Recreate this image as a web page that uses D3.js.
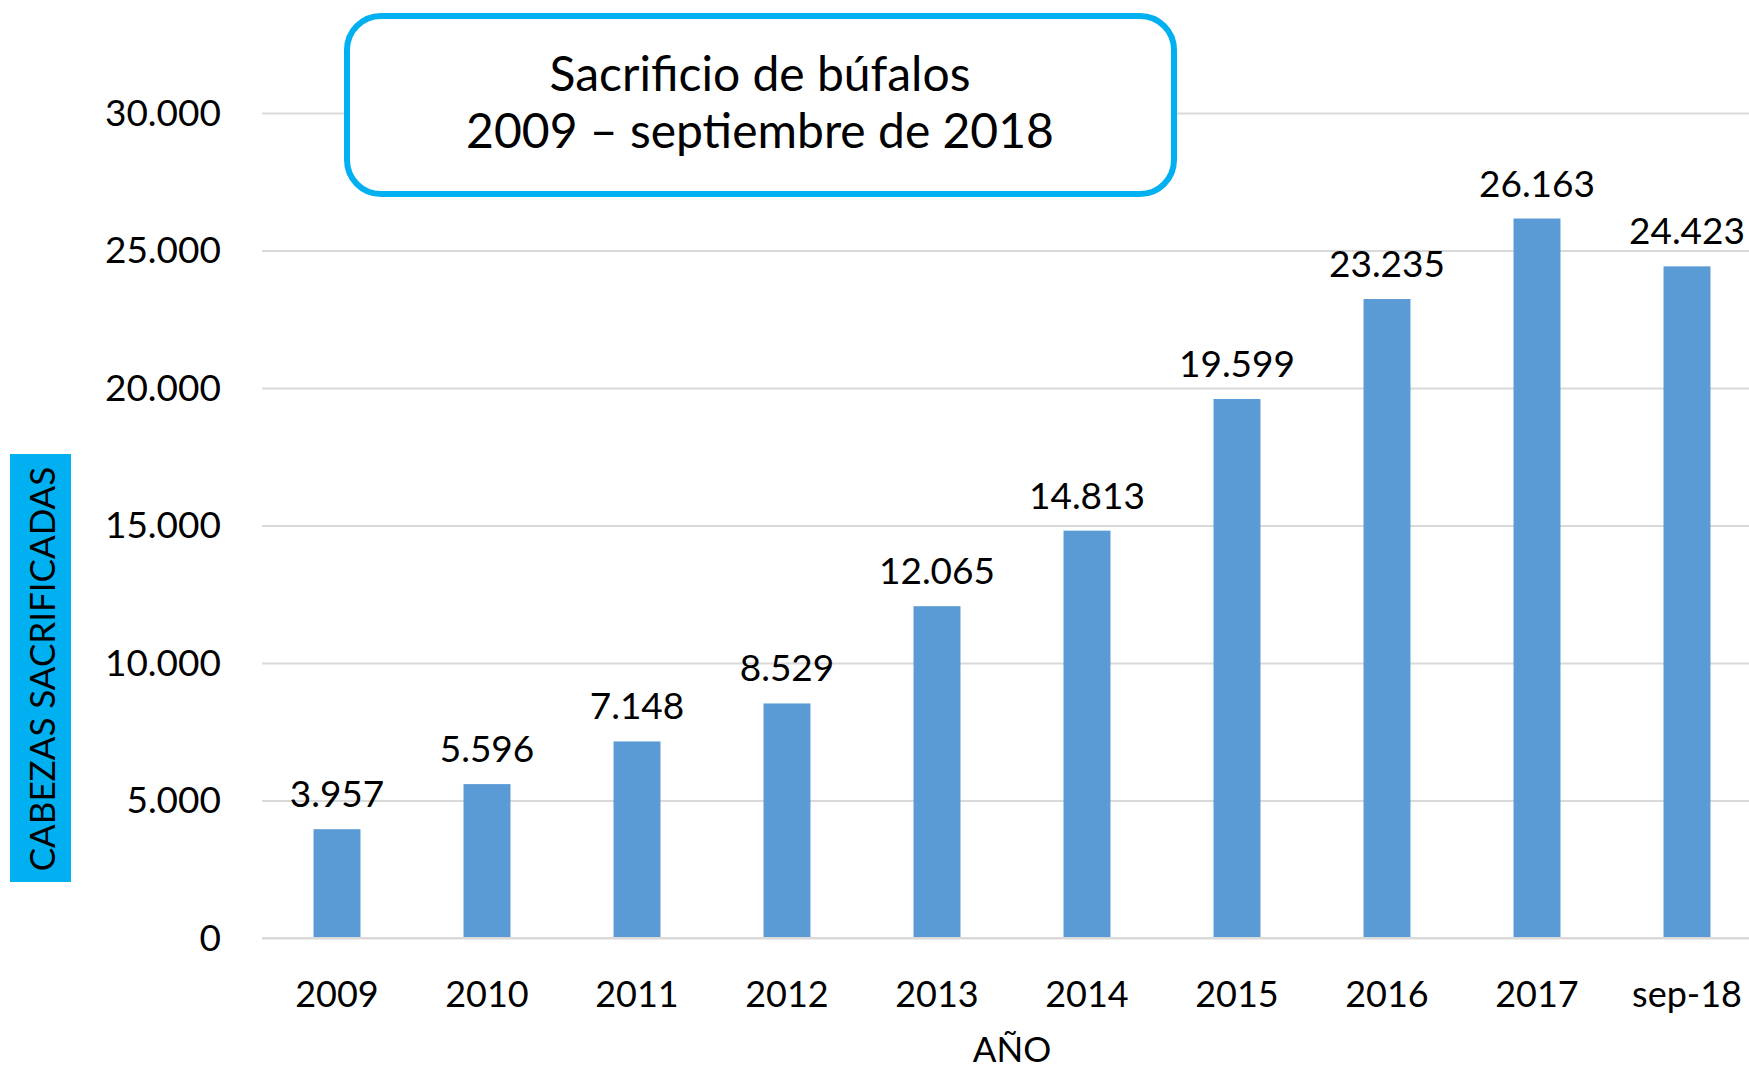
<!DOCTYPE html>
<html>
<head>
<meta charset="utf-8">
<script src="https://cdn.jsdelivr.net/npm/d3@7"></script>
<style>
  html, body { margin: 0; padding: 0; background: #fff; }
  svg { display: block; }
  text { font-family: Lato, "Noto Sans", sans-serif; fill: #000; }
</style>
</head>
<body>
<svg id="chart" width="1749" height="1072"></svg>
<script>
const categories = ["2009", "2010", "2011", "2012", "2013", "2014", "2015", "2016", "2017", "sep-18"];
const values = [3957, 5596, 7148, 8529, 12065, 14813, 19599, 23235, 26163, 24423];
const yTicks = [0, 5000, 10000, 15000, 20000, 25000, 30000];
const titleLines = ["Sacrificio de búfalos", "2009 – septiembre de 2018"];
const yAxisTitle = "CABEZAS SACRIFICADAS";
const xAxisTitle = "AÑO";

const W = 1749, H = 1072;
const svg = d3.select("#chart");

const loc = d3.formatLocale({ decimal: ",", thousands: ".", grouping: [3], currency: ["", ""] });
const fmt = loc.format(",d");

const x = d3.scaleBand()
  .domain(categories)
  .range([262, 1762])
  .paddingInner(0.687)
  .paddingOuter(0.3435);

const y = d3.scaleLinear().domain([0, 30000]).range([938, 113]);

// Gridlines
const gridAxis = d3.axisLeft(y).tickValues(yTicks).tickSize(-(W - 262)).tickFormat("");
const grid = svg.append("g").attr("transform", "translate(262,0)").call(gridAxis);
grid.select(".domain").remove();
grid.selectAll(".tick line").attr("stroke", "#d9d9d9").attr("stroke-width", 2);

// Y tick labels
const yAxis = d3.axisLeft(y).tickValues(yTicks).tickSize(0).tickPadding(0).tickFormat(d => fmt(d));
const yG = svg.append("g").attr("transform", "translate(221,0)").call(yAxis);
yG.select(".domain").remove();
yG.selectAll(".tick text")
  .attr("font-family", "Lato, 'Noto Sans', sans-serif")
  .attr("font-size", 37)
  .attr("fill", "#000")
  .attr("dy", "0.33em");

// Bars
svg.append("g").selectAll("rect")
  .data(values)
  .join("rect")
  .attr("x", (d, i) => x(categories[i]))
  .attr("width", x.bandwidth())
  .attr("y", d => y(d))
  .attr("height", d => y(0) - y(d))
  .attr("fill", "#5B9BD5");

// Axis baseline
const xAxis = d3.axisBottom(x).tickSize(0).tickPadding(0);
const xG = svg.append("g").attr("transform", `translate(0,${y(0)})`).call(xAxis);
xG.select(".domain").remove();
svg.append("line")
  .attr("x1", 262).attr("x2", W)
  .attr("y1", y(0)).attr("y2", y(0))
  .attr("stroke", "#d9d9d9").attr("stroke-width", 2);
xG.selectAll(".tick text")
  .attr("font-family", "Lato, 'Noto Sans', sans-serif")
  .attr("font-size", 36)
  .attr("fill", "#000")
  .attr("dy", 0)
  .attr("y", 69);

// Data labels
svg.append("g").selectAll("text")
  .data(values)
  .join("text")
  .attr("x", (d, i) => x(categories[i]) + x.bandwidth() / 2)
  .attr("y", d => y(d) - 22)
  .attr("text-anchor", "middle")
  .attr("font-size", 37)
  .text(d => fmt(d));

// X axis title
svg.append("text")
  .attr("x", 1012).attr("y", 1062)
  .attr("text-anchor", "middle")
  .attr("font-size", 35)
  .text(xAxisTitle);

// Y axis title with cyan box
svg.append("rect")
  .attr("x", 10).attr("y", 454).attr("width", 61).attr("height", 428)
  .attr("fill", "#00B0F0");
svg.append("text")
  .attr("transform", "translate(55,669) rotate(-90)")
  .attr("text-anchor", "middle")
  .attr("font-size", 35)
  .text(yAxisTitle);

// Title box
svg.append("rect")
  .attr("x", 347).attr("y", 16).attr("width", 827).attr("height", 178)
  .attr("rx", 34).attr("ry", 34)
  .attr("fill", "#fff")
  .attr("stroke", "#00B0F0").attr("stroke-width", 6);
svg.append("text")
  .attr("x", 760).attr("y", 91)
  .attr("text-anchor", "middle")
  .attr("font-size", 48)
  .text(titleLines[0]);
svg.append("text")
  .attr("x", 760).attr("y", 148)
  .attr("text-anchor", "middle")
  .attr("font-size", 48)
  .text(titleLines[1]);
</script>
</body>
</html>
